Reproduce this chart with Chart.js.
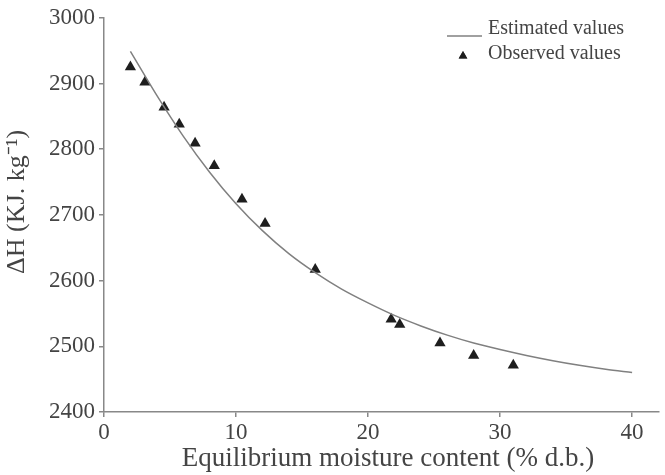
<!DOCTYPE html>
<html lang="en">
<head>
    <meta charset="UTF-8">
    <title>Equilibrium moisture content vs heat of vaporisation</title>
    <script src="https://cdn.jsdelivr.net/npm/chart.js"></script>
    <style>
        body { margin: 0; background: #fff; }
    </style>
</head>
<body>
    <canvas id="grafica" width="665" height="475"></canvas>
<script>
// estimated curve
const estX = [2, 4, 6, 8, 10, 12, 14, 16, 18, 20, 22, 24, 26, 28, 30, 32, 34, 36, 38, 40];
const estY = [2949, 2882, 2820, 2765, 2717, 2676, 2641, 2612, 2587, 2566, 2547, 2531, 2517, 2505, 2495, 2486, 2478, 2471, 2465, 2460];

// observed points
const obsX = [2.0, 3.1, 4.55, 5.7, 6.9, 8.35, 10.45, 12.2, 16.0, 21.75, 22.4, 25.45, 28.0, 31.0];
const obsY = [2925, 2902, 2864, 2838, 2809, 2775, 2724, 2687, 2617, 2541, 2533, 2505, 2486, 2471];

const xTicks = [0, 10, 20, 30, 40];
const yTicks = [2400, 2500, 2600, 2700, 2800, 2900, 3000];

const gris = '#444';
const fuente = 'Liberation Serif';

const estimados = estX.map((x, i) => ({ x: x, y: estY[i] }));
const observados = obsX.map((x, i) => ({ x: x, y: obsY[i] }));

// legend drawn inside the plot, top right
const leyenda = {
    id: 'leyenda',
    afterDraw(chart) {
        const ctx = chart.ctx;
        ctx.save();
        ctx.font = '20px "' + fuente + '"';
        ctx.fillStyle = gris;
        ctx.textBaseline = 'middle';
        ctx.textAlign = 'left';
        const ds = chart.data.datasets;
        // line sample
        ctx.strokeStyle = ds[0].borderColor;
        ctx.lineWidth = 1.5;
        ctx.beginPath();
        ctx.moveTo(447, 36);
        ctx.lineTo(482, 36);
        ctx.stroke();
        ctx.fillText(ds[0].label, 488, 29);
        // triangle sample
        Chart.helpers.drawPoint(ctx, { pointStyle: 'triangle', radius: 5, borderWidth: 0 }, 463, 56);
        ctx.fillStyle = ds[1].backgroundColor;
        ctx.fill();
        ctx.fillStyle = gris;
        ctx.fillText(ds[1].label, 488, 54);
        ctx.restore();
    }
};

new Chart(document.getElementById('grafica'), {
    type: 'scatter',
    data: {
        datasets: [{
            label: 'Estimated values',
            data: estimados,
            showLine: true,
            borderColor: '#808080',
            borderWidth: 1.5,
            pointRadius: 0,
            cubicInterpolationMode: 'monotone',
            fill: false
        }, {
            label: 'Observed values',
            data: observados,
            pointStyle: 'triangle',
            pointRadius: 6.5,
            backgroundColor: '#1e1e1e',
            borderColor: '#1e1e1e',
            borderWidth: 0
        }]
    },
    options: {
        responsive: false,
        animation: false,
        layout: { padding: { top: 14, right: 5, left: 0, bottom: 0 } },
        plugins: {
            legend: { display: false },
            tooltip: { enabled: false }
        },
        scales: {
            x: {
                type: 'linear',
                min: 0,
                max: 42,
                afterBuildTicks: s => { s.ticks = xTicks.map(v => ({ value: v })); },
                afterFit: s => { s.height = 63; },
                grid: { drawOnChartArea: false, drawTicks: true, tickLength: 5, color: '#888', lineWidth: 1.5 },
                border: { color: '#888', width: 1.5 },
                ticks: { color: gris, padding: 2, font: { family: fuente, size: 23 } },
                title: {
                    display: true,
                    // leading spaces nudge the label right, as in the original
                    text: '  Equilibrium moisture content (% d.b.)',
                    color: gris,
                    padding: { top: 0, bottom: 0 },
                    font: { family: fuente, size: 27 }
                }
            },
            y: {
                min: 2400,
                max: 3000,
                afterBuildTicks: s => { s.ticks = yTicks.map(v => ({ value: v })); },
                afterFit: s => { s.width = 104; },
                grid: { drawOnChartArea: false, drawTicks: true, tickLength: 5, color: '#888', lineWidth: 1.5 },
                border: { color: '#888', width: 1.5 },
                ticks: {
                    color: gris,
                    padding: 4,
                    font: { family: fuente, size: 23 },
                    callback: v => String(v)
                },
                title: {
                    display: true,
                    // leading spaces lift the label a little, as in the original
                    text: '    ΔH (KJ. kg⁻¹)',
                    color: gris,
                    padding: { top: 2, bottom: 0 },
                    font: { family: fuente, size: 26 }
                }
            }
        }
    },
    plugins: [leyenda]
});
</script>
</body>
</html>
